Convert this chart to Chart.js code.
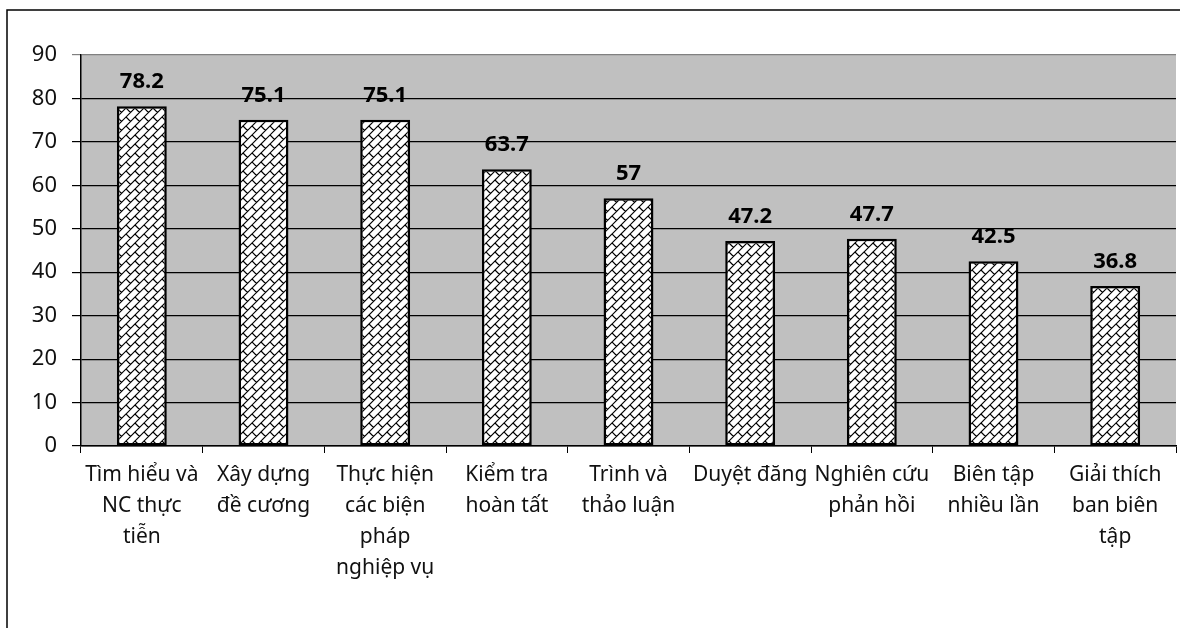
<!DOCTYPE html>
<html>
<head>
<meta charset="utf-8">
<script src="https://cdn.jsdelivr.net/npm/chart.js@4"></script>
<style>
  body { margin: 0; background: #fff; }
  #wrap { width: 1180px; height: 628px; position: relative; }
</style>
</head>
<body>
<div id="wrap"><canvas id="myChart"></canvas></div>
<script>
const categories = [
	['Tìm hiểu và', 'NC thực', 'tiễn'],
	['Xây dựng', 'đề cương'],
	['Thực hiện', 'các biện', 'pháp', 'nghiệp vụ'],
	['Kiểm tra', 'hoàn tất'],
	['Trình và', 'thảo luận'],
	['Duyệt đăng'],
	['Nghiên cứu', 'phản hồi'],
	['Biên tập', 'nhiều lần'],
	['Giải thích', 'ban biên', 'tập'],
];
const values = [78.2, 75.1, 75.1, 63.7, 57, 47.2, 47.7, 42.5, 36.8];
const yTicks = [0, 10, 20, 30, 40, 50, 60, 70, 80, 90];

const FONT = "'Noto Sans', 'DejaVu Sans', sans-serif";

// diagonal brick fill
function brickPattern() {
	const S = 9, T = S * 2;
	const c = document.createElement('canvas');
	c.width = T; c.height = T;
	const g = c.getContext('2d');
	g.fillStyle = '#fff';
	g.fillRect(0, 0, T, T);
	g.strokeStyle = '#000';
	g.lineWidth = 1.2;
	g.beginPath();
	for (let k = -2 * T; k <= 4 * T; k += S) {
		g.moveTo(k + T, -T);
		g.lineTo(-T, k + T);
	}
	for (let r = -4; r <= 6; r++) {
		const a = r * S;
		const off = (Math.abs(r) % 2 === 0) ? 0 : S;
		for (let cc = -3 * T + off; cc <= 3 * T; cc += T) {
			g.moveTo((a + cc) / 2, (a - cc) / 2);
			g.lineTo((a + S + cc) / 2, (a + S - cc) / 2);
		}
	}
	g.stroke();
	return g.createPattern(c, 'repeat');
}

const framePlugin = {
	id: 'frame',
	beforeDraw(chart) {
		const { ctx, chartArea: a } = chart;
		ctx.save();
		ctx.fillStyle = '#c0c0c0';
		ctx.fillRect(a.left, a.top, a.right - a.left, a.bottom - a.top);
		ctx.strokeStyle = '#000';
		ctx.lineWidth = 1.5;
		ctx.strokeRect(7, 10, 1200, 700);
		ctx.restore();
	},
	afterDatasetsDraw(chart) {
		const { ctx } = chart;
		const meta = chart.getDatasetMeta(0);
		ctx.save();
		ctx.font = 'bold 22px ' + FONT;
		ctx.fillStyle = '#000';
		ctx.textAlign = 'center';
		ctx.textBaseline = 'alphabetic';
		meta.data.forEach((bar, i) => {
			ctx.fillText(String(values[i]), bar.x, bar.y - 18);
		});
		ctx.restore();
	}
};

const ctx = document.getElementById('myChart');

new Chart(ctx, {
	type: 'bar',
	data: {
		labels: categories,
		datasets: [{
			data: values,
			backgroundColor: brickPattern(),
			borderColor: '#000',
			borderWidth: 2.5,
			borderSkipped: false,
			barPercentage: 0.41,
			categoryPercentage: 1,
		}]
	},
	options: {
		responsive: true,
		maintainAspectRatio: false,
		animation: false,
		layout: { padding: { top: 55, right: 4, left: 0, bottom: 0 } },
		plugins: { legend: { display: false }, tooltip: { enabled: false } },
		scales: {
			x: {
				afterFit(scale) { scale.height = 182; },
				grid: { drawOnChartArea: false, color: '#000', tickLength: 7, offset: true },
				border: { color: '#000', width: 1.5 },
				ticks: {
					color: '#111',
					maxRotation: 0,
					autoSkip: false,
					padding: 6,
					font: { family: FONT, size: 21, lineHeight: 1.48 }
				}
			},
			y: {
				min: 0,
				max: 90,
				afterFit(scale) { scale.width = 81; },
				afterBuildTicks(scale) { scale.ticks = yTicks.map(v => ({ value: v })); },
				grid: {
					color: ctx => (ctx.tick && ctx.tick.value === 90) ? '#808080' : '#000',
					tickLength: 9,
					lineWidth: 1.2
				},
				border: { color: '#000', width: 1.5 },
				ticks: {
					color: '#111',
					padding: 15,
					font: { family: FONT, size: 22 }
				}
			}
		}
	},
	plugins: [framePlugin]
});
</script>
</body>
</html>
